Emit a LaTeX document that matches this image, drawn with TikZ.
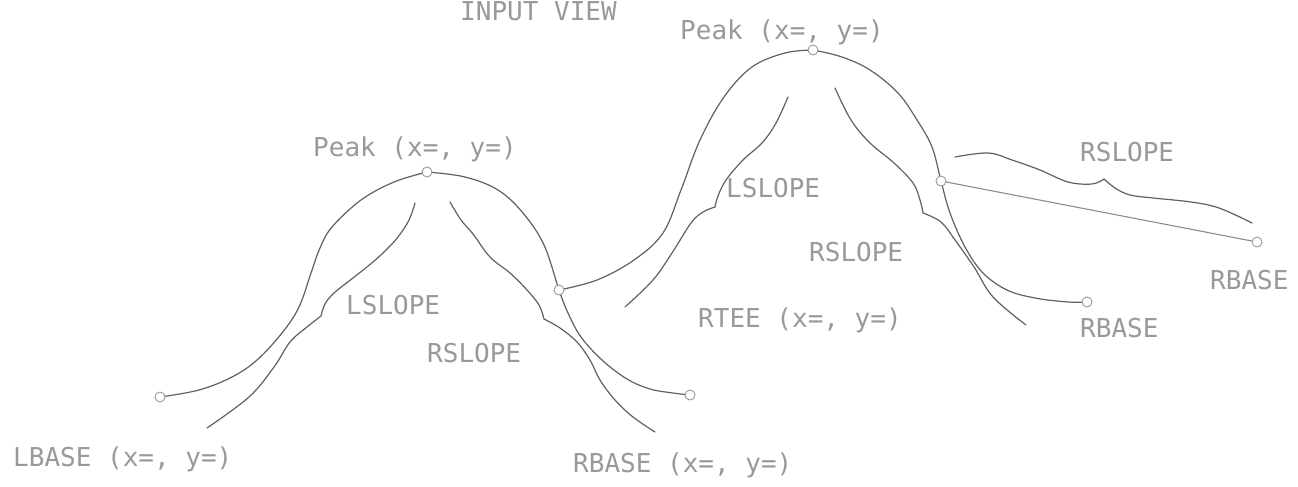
\documentclass[tikz,border=0pt]{standalone}
\usepackage{fontspec}
\newfontfamily\plotfont{DejaVu Sans Mono}
\begin{document}
\begin{tikzpicture}[x=1pt,y=-1pt,
  curve/.style={draw=black!62,line width=1.2pt,line cap=round},
  tline/.style={draw=black!45,line width=1.1pt},
  marker/.style={circle,draw=black!40,fill=white,line width=0.9pt,minimum size=10pt,inner sep=0pt},
  lab/.style={anchor=base west,inner sep=0pt,text=black!40,font=\plotfont\fontsize{26}{26}\selectfont}]
\clip (0,0) rectangle (1298,487);
\fill[white] (0,0) rectangle (1298,487);

% marker positions
\coordinate (lbase) at (160,397);
\coordinate (lpeak) at (427,172);
\coordinate (lvalley) at (559,290);
\coordinate (lrbase) at (690,395);
\coordinate (bpeak) at (813,50);
\coordinate (rtee) at (941,181);
\coordinate (brbase) at (1087,302);
\coordinate (frbase) at (1257,242);

% left peak outer curve
\draw[curve] plot[smooth,tension=0.6] coordinates {(lbase) (199,390) (232,377) (257,360) (282,333) (299,307) (311,273) (320,248) (332,227) (361,200) (394,182) (lpeak)};
\draw[curve] plot[smooth,tension=0.6] coordinates {(lpeak) (465,177) (498,190) (523,213) (544,245) (lvalley) (568,313) (581,337) (602,360) (627,379) (650,389) (673,393) (lrbase)};
% left peak inner LSLOPE
\draw[curve] plot[smooth,tension=0.6] coordinates {(415,203) (409,220) (398,237) (386,250) (373,262) (353,278) (334,293) (325,304) (321,316)};
\draw[curve] plot[smooth,tension=0.6] coordinates {(321,316) (307,327) (290,342) (274,367) (249,397) (207,428)};
% left peak inner RSLOPE
\draw[curve] plot[smooth,tension=0.6] coordinates {(450,202) (461,220) (473,234) (490,257) (510,273) (527,290) (539,305) (544,319)};
\draw[curve] plot[smooth,tension=0.6] coordinates {(544,319) (560,328) (577,342) (590,360) (600,380) (615,400) (633,417) (655,432)};

% big peak outer curve
\draw[curve] plot[smooth,tension=0.6] coordinates {(lvalley) (597,280) (634,260) (663,233) (681,190) (700,140) (724,97) (752,67) (785,53) (bpeak)};
\draw[curve] plot[smooth,tension=0.6] coordinates {(bpeak) (842,57) (870,70) (898,93) (917,120) (932,147) (rtee) (950,213) (965,247) (983,273) (1007,290) (1035,298) (1068,302) (brbase)};
% big peak inner LSLOPE
\draw[curve] plot[smooth,tension=0.6] coordinates {(788,97) (776,123) (762,143) (743,160) (726,180) (718,196) (715,207)};
\draw[curve] plot[smooth,tension=0.6] coordinates {(715,207) (703,212) (691,223) (672,253) (653,280) (625,307)};
% big peak inner RSLOPE
\draw[curve] plot[smooth,tension=0.6] coordinates {(835,88) (851,120) (870,143) (894,163) (913,183) (920,200) (923,213)};
\draw[curve] plot[smooth,tension=0.6] coordinates {(923,213) (941,222) (955,240) (974,267) (993,297) (1026,325)};

% right tail
\draw[tline] (rtee) -- (frbase);
\draw[curve] plot[smooth,tension=0.6] coordinates {(955,157) (988,153) (1012,160) (1040,170) (1068,182) (1092,184) (1104,179)};
\draw[curve] plot[smooth,tension=0.6] coordinates {(1104,179) (1115,188) (1130,195) (1153,198) (1191,202) (1219,208) (1252,223)};

% markers
\foreach \m in {lbase,lpeak,lvalley,lrbase,bpeak,rtee,brbase,frbase}
  \node[marker] (m\m) at (\m) {};

% labels
\node[lab] (tinput) at (460,21) {INPUT VIEW};
\node[lab] (tbpeak) at (680,40) {Peak (x=, y=)};
\node[lab] (tlpeak) at (313,156) {Peak (x=, y=)};
\node[lab] (tlls) at (346,314) {LSLOPE};
\node[lab] (tlrs) at (427,362) {RSLOPE};
\node[lab] (tlbase) at (13,466) {LBASE (x=, y=)};
\node[lab] (tlrbase) at (573,472) {RBASE (x=, y=)};
\node[lab] (tbls) at (726,197) {LSLOPE};
\node[lab] (tbrs) at (809,261) {RSLOPE};
\node[lab] (trtee) at (698,327) {RTEE (x=, y=)};
\node[lab] (trrs) at (1080,161) {RSLOPE};
\node[lab] (tfrbase) at (1210,289) {RBASE};
\node[lab] (tbrbase) at (1080,337) {RBASE};
\end{tikzpicture}
\end{document}
